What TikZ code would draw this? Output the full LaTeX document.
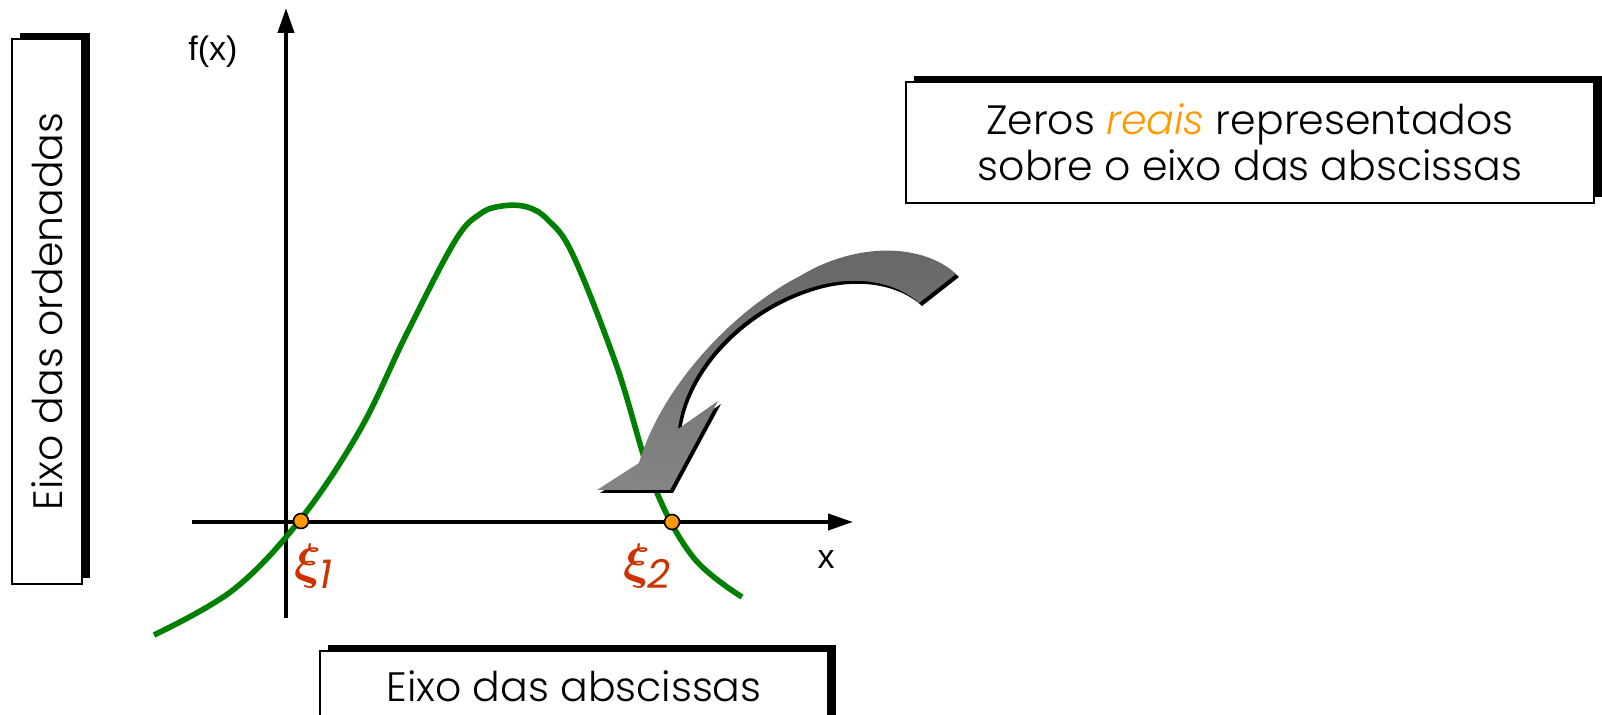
\documentclass[tikz,border=0pt]{standalone}
\usepackage{fontspec}
\setmainfont{Poppins Light}[ItalicFont={Poppins Light Italic}]
\newfontfamily\arialfont{Liberation Sans}
\newfontfamily\zerofont{Poppins}
\usepackage{tikz}
\usetikzlibrary{arrows.meta,shadows}
\usepackage{xcolor}
\definecolor{curvegreen}{RGB}{0,128,0}
\definecolor{zeroorange}{RGB}{255,153,0}
\definecolor{xired}{RGB}{204,51,0}

\begin{document}
\begin{tikzpicture}[x=0.5pt, y=-0.5pt,
    labelbox/.style={draw, line width=1pt, fill=white, inner sep=0pt, align=center,
        font=\fontsize{20.5}{23}\selectfont,
        drop shadow={shadow xshift=4pt, shadow yshift=3pt, opacity=1, fill=black}},
    axis/.style={line width=2pt, -{Triangle[length=12.5pt, width=8pt]}},
    axislabel/.style={font=\arialfont\fontsize{17}{19}\selectfont},
    zero/.style={circle, draw, line width=0.8pt, fill=zeroorange, inner sep=0pt, minimum size=7.5pt},
    zerolabel/.style={text=xired, font=\zerofont\fontsize{20}{20}\selectfont}]
\useasboundingbox (0,0) rectangle (1602,715);
\clip (0,0) rectangle (1602,715);
% boxes
\node[labelbox, minimum width=35pt, minimum height=272.5pt] (ordenadas) at (47,311.5) {\rotatebox{90}{Eixo das ordenadas}};
\node[labelbox, minimum width=344pt, minimum height=60.5pt] (zeros) at (1250,142.5) {Zeros \textcolor{zeroorange}{\textit{reais}} representados\\sobre o eixo das abscissas};
\node[labelbox, minimum width=254pt, minimum height=35pt] (abscissas) at (574,686) {Eixo das abscissas};
% axes
\draw[axis] (192,522) -- (853,522);
\draw[axis] (286,618) -- (286,8);
\node[axislabel] (fx) at (213,52) {f(x)};
\node[axislabel] (xlabel) at (826,560) {x};
% function
\draw[curvegreen, line width=2.8pt] plot[smooth, tension=0.6] coordinates {(154,635) (233,590) (300,520) (360,430) (407,333) (455,241) (480,214) (502,206) (527,207) (548,220) (573,255) (617,367) (653,483) (693,557) (742,597)};
% curved arrow
\shade[top color=black!60, bottom color=black!48,
    drop shadow={shadow xshift=1.5pt, shadow yshift=-1.5pt, opacity=1, fill=black}]
    (956,274) .. controls (925,245) and (860,240) .. (800,276)
    .. controls (730,312) and (660,390) .. (639,463)
    -- (597,490) -- (670,490) -- (718,401) -- (678,429)
    .. controls (685,370) and (740,310) .. (810,288)
    .. controls (860,272) and (900,285) .. (919,303) -- cycle;
% zeros
\node[zero] (xi1) at (301,521) {};
\node[zero] (xi2) at (672,522) {};
\node[zerolabel] (xi1label) at (313,566) {{\fontsize{32}{32}\selectfont\boldmath$\xi$}\kern-1pt\raisebox{-5pt}{\itshape 1}};
\node[zerolabel] (xi2label) at (647,566) {{\fontsize{32}{32}\selectfont\boldmath$\xi$}\kern-1pt\raisebox{-5pt}{\itshape 2}};
\end{tikzpicture}
\end{document}
